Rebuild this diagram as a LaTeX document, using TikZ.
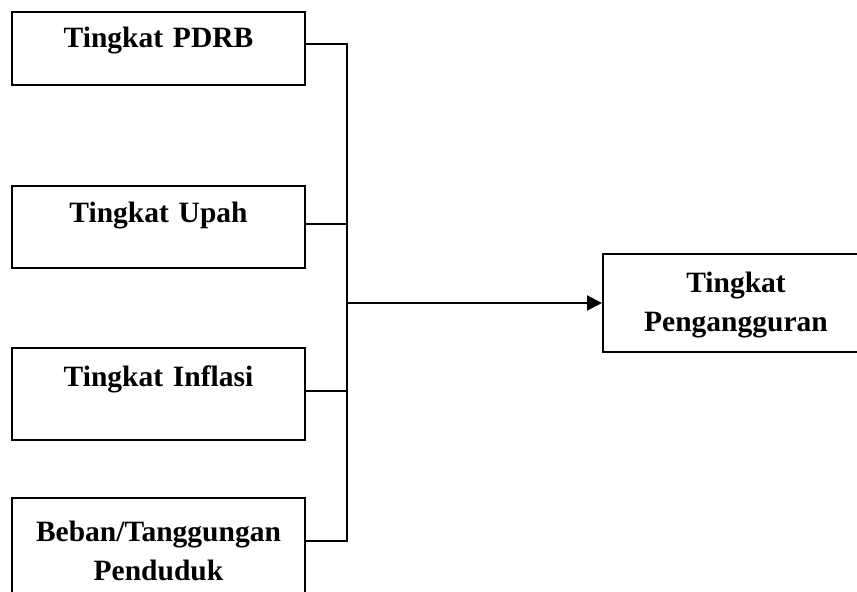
\documentclass[tikz,border=0pt]{standalone}
\usepackage{fontspec}
\setmainfont{Liberation Serif}
\usetikzlibrary{arrows.meta}
\begin{document}
\begin{tikzpicture}[x=0.5pt,y=-0.5pt,
    kotak/.style={draw, line width=1pt, inner sep=0pt, align=center, anchor=base,
      font=\bfseries\fontsize{14.75}{19.5}\selectfont},
    garis/.style={line width=1pt}]
    \useasboundingbox (0,0) rectangle (857,592);
    \clip (0,0) rectangle (857,592);

    % Variabel bebas
    \node[kotak, text width=146.5pt, text height=18pt, text depth=18.5pt] (pdrb) at (158.5,48) {Tingkat PDRB};
    \node[kotak, text width=146.5pt, text height=18.5pt, text depth=22.5pt] (upah) at (158.5,223) {Tingkat Upah};
    \node[kotak, text width=146.5pt, text height=19.5pt, text depth=26.5pt] (inflasi) at (158.5,387) {Tingkat Inflasi};
    \node[kotak, text width=146.5pt, text height=22pt, text depth=28pt] (beban) at (158.5,542) {Beban/Tanggungan\\Penduduk};

    % Variabel terikat
    \node[kotak, text width=133pt, text height=19.5pt, text depth=29.5pt] (hasil) at (736,293) {Tingkat\\Pengangguran};

    % Garis penghubung
    \coordinate (atas) at (347,44);
    \coordinate (tengah1) at (347,224);
    \coordinate (tengah2) at (347,391);
    \coordinate (bawah) at (347,541);
    \coordinate (cabang) at (347,303);
    \draw[garis] (pdrb.east |- atas) -- (atas) -- (bawah) -- (beban.east |- bawah);
    \draw[garis] (upah.east |- tengah1) -- (tengah1);
    \draw[garis] (inflasi.east |- tengah2) -- (tengah2);
    \draw[garis, -{Triangle[length=7.5pt,width=7.5pt]}] (cabang) -- (hasil.west |- cabang);

\end{tikzpicture}
\end{document}
